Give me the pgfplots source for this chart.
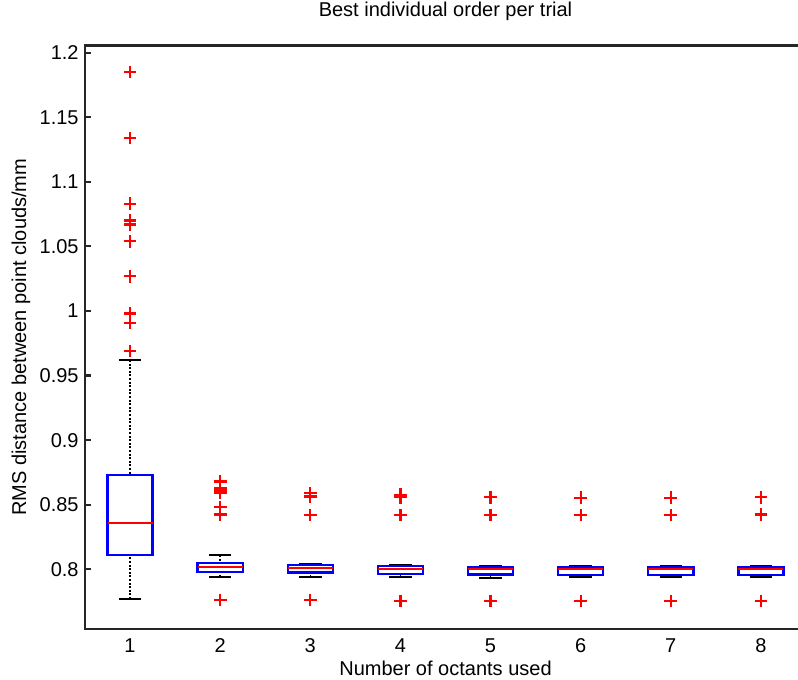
\documentclass[border=0pt]{standalone}
\usepackage{fontspec}
\setmainfont{Liberation Sans}
\usepackage{pgfplots}
\pgfplotsset{compat=1.18}
\usepgfplotslibrary{statistics}

% MATLAB-like boxplot parts: blue box, red median, dashed black whiskers
\pgfplotsset{
  boxplot/draw direction=y,
  boxplot/box extend=0.5,
  boxplot/whisker extend=0.25,
  boxplot/draw/box/.code={%
    \draw[blue, line width=1.2bp, solid]
      (boxplot box cs:\pgfplotsboxplotvalue{lower quartile},0) rectangle
      (boxplot box cs:\pgfplotsboxplotvalue{upper quartile},1);},
  boxplot/draw/median/.code={%
    \draw[red, line width=0.8bp, solid]
      (boxplot box cs:\pgfplotsboxplotvalue{median},0) --
      (boxplot box cs:\pgfplotsboxplotvalue{median},1);},
  boxplot/draw/lower whisker/.code={%
    \draw[black, line width=0.7bp, dash pattern=on 1bp off 0.8bp]
      (boxplot cs:\pgfplotsboxplotvalue{lower whisker}) --
      (boxplot cs:\pgfplotsboxplotvalue{lower quartile});
    \draw[black, line width=1.1bp, solid]
      (boxplot whisker cs:\pgfplotsboxplotvalue{lower whisker},0) --
      (boxplot whisker cs:\pgfplotsboxplotvalue{lower whisker},1);},
  boxplot/draw/upper whisker/.code={%
    \draw[black, line width=0.7bp, dash pattern=on 1bp off 0.8bp]
      (boxplot cs:\pgfplotsboxplotvalue{upper whisker}) --
      (boxplot cs:\pgfplotsboxplotvalue{upper quartile});
    \draw[black, line width=1.1bp, solid]
      (boxplot whisker cs:\pgfplotsboxplotvalue{upper whisker},0) --
      (boxplot whisker cs:\pgfplotsboxplotvalue{upper whisker},1);},
  outl/.style={mark=+, mark size=3.2bp, mark options={red, line width=1.1bp, solid}},
}

\begin{document}
\begin{tikzpicture}
\begin{axis}[
  scale only axis,
  width=360.5bp, height=291.5bp,
  xmin=0.5, xmax=8.5,
  ymin=0.754, ymax=1.2054,
  font=\fontsize{10bp}{12bp}\selectfont,
  /pgf/number format/assume math mode=true,
  axis line style={line width=1.2bp, black!85},
  xtick={1,2,3,4,5,6,7,8},
  xticklabels={1,2,3,4,5,6,7,8},
  ytick={0.8,0.85,0.9,0.95,1,1.05,1.1,1.15,1.2},
  yticklabels={0.8,0.85,0.9,0.95,1,1.05,1.1,1.15,1.2},
  tick align=inside,
  ytick pos=left,
  xtick pos=bottom,
  major x tick style={draw=none},
  major y tick style={line width=1.1bp, black!85},
  major tick length=3.2bp,
  xticklabel style={anchor=base, yshift=-11.65bp},
  yticklabel style={anchor=east, inner sep=0pt, xshift=-3bp},
  title={Best individual order per trial},
  title style={at={(axis description cs:0.5,1)}, anchor=base, yshift=8.85bp},
  xlabel={Number of octants used},
  xlabel style={at={(axis description cs:0.5,0)}, anchor=base, yshift=-23.15bp},
  ylabel={RMS distance between point clouds/mm},
  ylabel style={at={(axis description cs:-0.0818,0.5)}, anchor=base, rotate=0},
]
\addplot[outl, boxplot prepared={draw position=1,
  lower whisker=0.777, lower quartile=0.811, median=0.836,
  upper quartile=0.873, upper whisker=0.962}]
  table[row sep=\\, y index=0] {data\\ 1.185\\ 1.134\\ 1.083\\ 1.070\\ 1.067\\ 1.054\\ 1.027\\ 0.998\\ 0.991\\ 0.969\\};
\addplot[outl, boxplot prepared={draw position=2,
  lower whisker=0.7943, lower quartile=0.7979, median=0.8018,
  upper quartile=0.8051, upper whisker=0.8109}]
  table[row sep=\\, y index=0] {data\\ 0.868\\ 0.863\\ 0.862\\ 0.861\\ 0.860\\ 0.859\\ 0.848\\ 0.843\\ 0.842\\ 0.7762\\};
\addplot[outl, boxplot prepared={draw position=3,
  lower whisker=0.7943, lower quartile=0.7974, median=0.801,
  upper quartile=0.8031, upper whisker=0.8040}]
  table[row sep=\\, y index=0] {data\\ 0.8589\\ 0.8563\\ 0.842\\ 0.7762\\};
\addplot[outl, boxplot prepared={draw position=4,
  lower whisker=0.7938, lower quartile=0.7964, median=0.800,
  upper quartile=0.8026, upper whisker=0.8033}]
  table[row sep=\\, y index=0] {data\\ 0.8576\\ 0.8558\\ 0.842\\ 0.7755\\};
\addplot[outl, boxplot prepared={draw position=5,
  lower whisker=0.7935, lower quartile=0.7961, median=0.8002,
  upper quartile=0.8015, upper whisker=0.8028}]
  table[row sep=\\, y index=0] {data\\ 0.8558\\ 0.842\\ 0.7755\\};
\addplot[outl, boxplot prepared={draw position=6,
  lower whisker=0.7938, lower quartile=0.7956, median=0.8002,
  upper quartile=0.8016, upper whisker=0.8026}]
  table[row sep=\\, y index=0] {data\\ 0.8555\\ 0.842\\ 0.7755\\};
\addplot[outl, boxplot prepared={draw position=7,
  lower whisker=0.7938, lower quartile=0.7956, median=0.8002,
  upper quartile=0.8016, upper whisker=0.8026}]
  table[row sep=\\, y index=0] {data\\ 0.8555\\ 0.842\\ 0.7755\\};
\addplot[outl, boxplot prepared={draw position=8,
  lower whisker=0.7938, lower quartile=0.7956, median=0.8002,
  upper quartile=0.8016, upper whisker=0.8026}]
  table[row sep=\\, y index=0] {data\\ 0.8558\\ 0.8426\\ 0.842\\ 0.7755\\};
\end{axis}
\pgfresetboundingbox
\path[use as bounding box] (-42.5bp,-25.65bp) rectangle (356.5bp,314.35bp);
\end{tikzpicture}
\end{document}
